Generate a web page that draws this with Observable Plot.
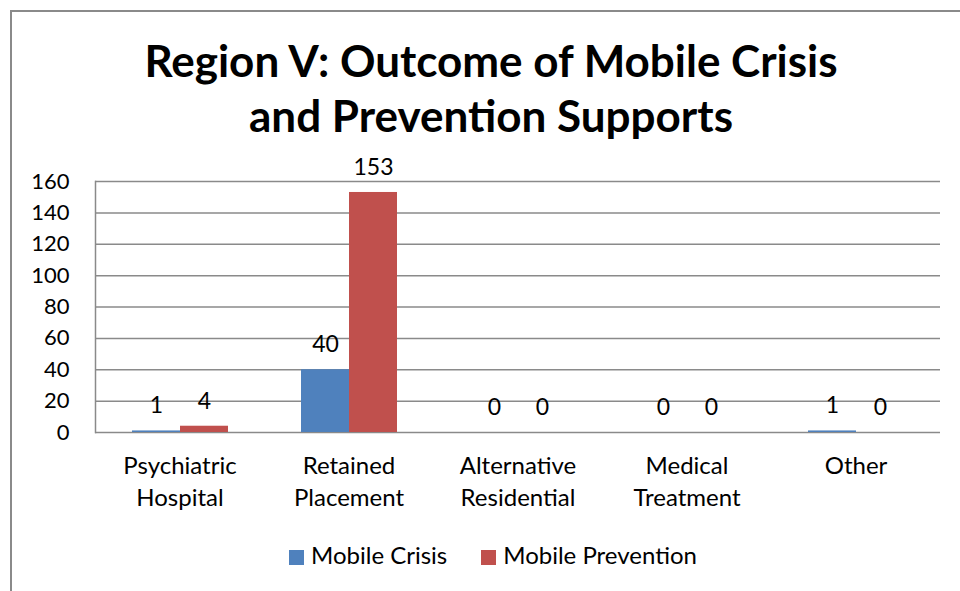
<!DOCTYPE html>
<html>
<head>
<meta charset="utf-8">
<script src="https://cdn.jsdelivr.net/npm/d3@7"></script>
<script src="https://cdn.jsdelivr.net/npm/@observablehq/plot@0.6"></script>
<style>
  html, body { margin: 0; padding: 0; background: #fff; width: 960px; height: 591px; overflow: hidden; }
  body { position: relative; font-family: Lato, "Open Sans", sans-serif; color: #000; }
  #frame { position: absolute; left: 10px; top: 10px; width: 1000px; height: 1000px;
           border-left: 2px solid #8a8a8a; border-top: 2px solid #8a8a8a; }
  #title { position: absolute; left: 0; top: 33px; width: 982px; text-align: center;
           font-weight: 700; font-size: 44px; line-height: 55px; }
  #chart { position: absolute; left: 0; top: 150px; }
  #legend { position: absolute; left: 0; top: 540px; width: 986px; text-align: center;
            font-size: 24px; line-height: 30px; }
  #legend span.item { display: inline-block; margin: 0 17px; }
  #legend span.sw { display: inline-block; width: 15px; height: 15px; margin-right: 7px; vertical-align: -1px; }
</style>
</head>
<body>
<div id="frame"></div>
<div id="title">Region V: Outcome of Mobile Crisis<br>and Prevention Supports</div>
<div id="chart"></div>
<div id="legend"></div>
<script>
const categories = ["Psychiatric Hospital", "Retained Placement", "Alternative Residential", "Medical Treatment", "Other"];
const categoryLabels = ["Psychiatric\nHospital", "Retained\nPlacement", "Alternative\nResidential", "Medical\nTreatment", "Other"];
const seriesNames = ["Mobile Crisis", "Mobile Prevention"];
const mobileCrisis = [1, 40, 0, 0, 1];
const mobilePrevention = [4, 153, 0, 0, 0];
const seriesColors = ["#4F81BD", "#C0504D"];
const yTicks = [0, 20, 40, 60, 80, 100, 120, 140, 160];

const data = [];
categories.forEach((c, i) => {
  data.push({cat: c, series: seriesNames[0], value: mobileCrisis[i]});
  data.push({cat: c, series: seriesNames[1], value: mobilePrevention[i]});
});
const labelOf = new Map(categories.map((c, i) => [c, categoryLabels[i]]));

const plot = Plot.plot({
  width: 960,
  height: 380,
  marginTop: 31,
  marginBottom: 98,
  marginLeft: 93,
  marginRight: 19,
  style: {fontFamily: "Lato, 'Open Sans', sans-serif", color: "#000", background: "transparent"},
  fx: {domain: categories, padding: 0, label: null, axis: null},
  x: {domain: seriesNames, paddingInner: 0, paddingOuter: 0.75, axis: null},
  y: {domain: [0, 160], label: null, axis: null},
  color: {domain: seriesNames, range: seriesColors},
  marks: [
    Plot.gridY(yTicks, {stroke: "#8a8a8a", strokeOpacity: 1, strokeWidth: 1.5}),
    Plot.frame({anchor: "left", facetAnchor: "left", stroke: "#8a8a8a", strokeWidth: 1.5}),
    Plot.barY(data, {fx: "cat", x: "series", y: "value", fill: "series"}),
    Plot.text(data, {fx: "cat", x: "series", y: "value", text: d => String(d.value), dy: -25, fontSize: 23, fill: "#000"}),
    Plot.axisY({anchor: "left", ticks: yTicks, tickSize: 0, tickPadding: 26, fontSize: 22, label: null}),
    Plot.axisFx({anchor: "bottom", tickSize: 0, tickPadding: 19, fontSize: 24, lineHeight: 1.33, label: null, tickFormat: d => labelOf.get(d)})
  ]
});
document.getElementById("chart").appendChild(plot);

const legend = document.getElementById("legend");
seriesNames.forEach((s, i) => {
  const item = document.createElement("span");
  item.className = "item";
  const sw = document.createElement("span");
  sw.className = "sw";
  sw.style.background = seriesColors[i];
  item.appendChild(sw);
  item.appendChild(document.createTextNode(s));
  legend.appendChild(item);
});
</script>
</body>
</html>
